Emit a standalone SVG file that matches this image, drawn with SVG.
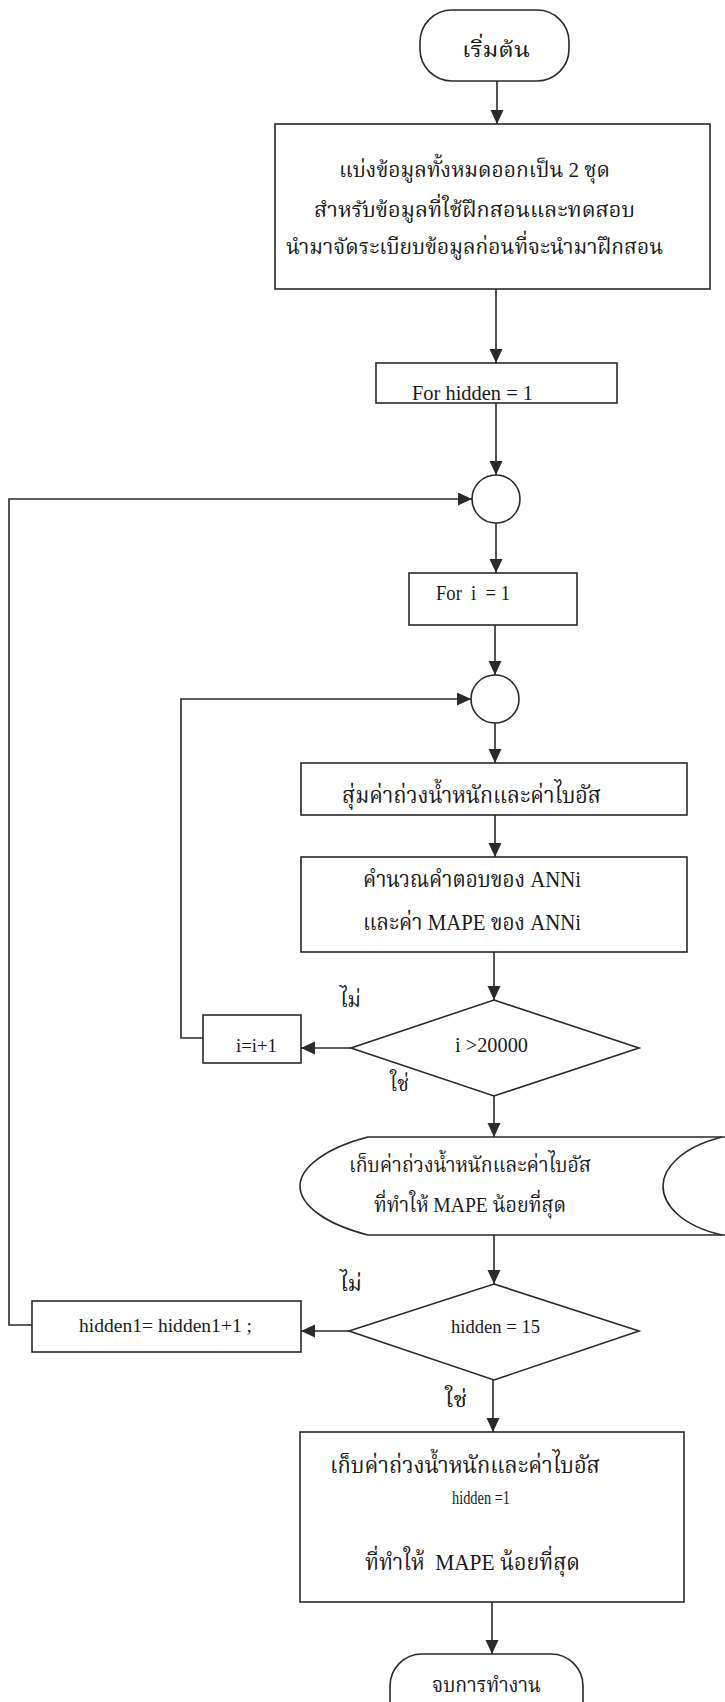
<svg xmlns="http://www.w3.org/2000/svg" width="725" height="1702" viewBox="0 0 725 1702">
<style>
.shape{fill:#fff;stroke:#2a2a2a;stroke-width:1.6}
.line{fill:none;stroke:#2a2a2a;stroke-width:1.6}
.th{font-family:"Liberation Serif","Noto Serif Thai","Noto Sans Thai","Garuda","Loma",serif;fill:#1a1a1a}
.en{font-family:"Liberation Serif",serif;fill:#1a1a1a}
</style>
<defs>
<marker id="arr" markerUnits="userSpaceOnUse" markerWidth="15" markerHeight="14" refX="14" refY="6.5" orient="auto">
<path d="M0,0 L14,6.5 L0,13 z" fill="#2a2a2a"/>
</marker>
</defs>
<rect width="725" height="1702" fill="#fff"/>
<g id="connectors">
<path class="line" d="M497,81 V124" marker-end="url(#arr)"/>
<path class="line" d="M496,289 V363" marker-end="url(#arr)"/>
<path class="line" d="M496,403 V475" marker-end="url(#arr)"/>
<path class="line" d="M496,523 V573" marker-end="url(#arr)"/>
<path class="line" d="M495,625 V675" marker-end="url(#arr)"/>
<path class="line" d="M495,723 V763" marker-end="url(#arr)"/>
<path class="line" d="M495,815 V857" marker-end="url(#arr)"/>
<path class="line" d="M494,952 V1000" marker-end="url(#arr)"/>
<path class="line" d="M494,1096 V1137" marker-end="url(#arr)"/>
<path class="line" d="M494,1235 V1284" marker-end="url(#arr)"/>
<path class="line" d="M493,1380 V1432" marker-end="url(#arr)"/>
<path class="line" d="M492,1602 V1654" marker-end="url(#arr)"/>
<path class="line" d="M351,1048 H301" marker-end="url(#arr)"/>
<path class="line" d="M203,1038 H181 V699 H471" marker-end="url(#arr)"/>
<path class="line" d="M349,1331 H301" marker-end="url(#arr)"/>
<path class="line" d="M32,1325 H9 V499 H472" marker-end="url(#arr)"/>
</g>
<g id="start">
<rect class="shape" x="420" y="10" width="149" height="71" rx="32" ry="32"/>
<text class="th" x="496" y="57" font-size="22" text-anchor="middle" textLength="68" lengthAdjust="spacingAndGlyphs">เริ่มต้น</text>
</g>
<g id="split">
<rect class="shape" x="275" y="124" width="435" height="165"/>
<text class="th" x="474.5" y="177" font-size="22" text-anchor="middle" textLength="271" lengthAdjust="spacingAndGlyphs">แบ่งข้อมูลทั้งหมดออกเป็น 2 ชุด</text>
<text class="th" x="474.5" y="217" font-size="22" text-anchor="middle" textLength="321" lengthAdjust="spacingAndGlyphs">สำหรับข้อมูลที่ใช้ฝึกสอนและทดสอบ</text>
<text class="th" x="474.5" y="254" font-size="22" text-anchor="middle" textLength="377" lengthAdjust="spacingAndGlyphs">นำมาจัดระเบียบข้อมูลก่อนที่จะนำมาฝึกสอน</text>
</g>
<g id="for-hidden">
<rect class="shape" x="376" y="363" width="241" height="40"/>
<text class="en" x="412" y="400" font-size="20" textLength="121" lengthAdjust="spacingAndGlyphs">For hidden = 1</text>
</g>
<g id="junction1">
<circle class="shape" cx="496" cy="499" r="24"/>
</g>
<g id="for-i">
<rect class="shape" x="409" y="573" width="168" height="52"/>
<text class="en" x="436" y="600" font-size="20" xml:space="preserve" textLength="74" lengthAdjust="spacingAndGlyphs">For  i  = 1</text>
</g>
<g id="junction2">
<circle class="shape" cx="495" cy="699" r="24"/>
</g>
<g id="random">
<rect class="shape" x="301" y="763" width="386" height="52"/>
<text class="th" x="471.5" y="803" font-size="23" text-anchor="middle" textLength="259" lengthAdjust="spacingAndGlyphs">สุ่มค่าถ่วงน้ำหนักและค่าไบอัส</text>
</g>
<g id="compute">
<rect class="shape" x="301" y="857" width="386" height="95"/>
<text class="th" x="472" y="887" font-size="23" text-anchor="middle" textLength="218" lengthAdjust="spacingAndGlyphs">คำนวณคำตอบของ ANNi</text>
<text class="th" x="472" y="930" font-size="23" text-anchor="middle" textLength="218" lengthAdjust="spacingAndGlyphs">และค่า MAPE ของ ANNi</text>
</g>
<g id="decision-i">
<polygon class="shape" points="494,1000 639,1048 494,1096 351,1048"/>
<text class="en" x="455" y="1052" font-size="20" textLength="73" lengthAdjust="spacingAndGlyphs">i &gt;20000</text>
<text class="th" x="340" y="1007" font-size="22" textLength="21" lengthAdjust="spacingAndGlyphs">ไม่</text>
<text class="th" x="390" y="1091" font-size="22" textLength="19" lengthAdjust="spacingAndGlyphs">ใช่</text>
</g>
<g id="increment-i">
<rect class="shape" x="203" y="1015" width="98" height="48"/>
<text class="en" x="236" y="1052" font-size="19" textLength="41" lengthAdjust="spacingAndGlyphs">i=i+1</text>
</g>
<g id="store">
<path class="shape" d="M368,1137 H730 V1235 H368 C325,1224 300,1205 300,1186 C300,1168 325,1148 368,1137 Z"/>
<path class="line" d="M722,1137 C682,1147 663,1168 663,1186 C663,1205 682,1226 722,1235"/>
<text class="th" x="470" y="1172" font-size="21" text-anchor="middle" textLength="242" lengthAdjust="spacingAndGlyphs">เก็บค่าถ่วงน้ำหนักและค่าไบอัส</text>
<text class="th" x="470" y="1212" font-size="21" text-anchor="middle" textLength="192" lengthAdjust="spacingAndGlyphs">ที่ทำให้ MAPE น้อยที่สุด</text>
</g>
<g id="decision-hidden">
<polygon class="shape" points="494,1284 639,1331 494,1380 349,1331"/>
<text class="en" x="451" y="1333" font-size="19" textLength="89" lengthAdjust="spacingAndGlyphs">hidden = 15</text>
<text class="th" x="340" y="1291" font-size="22" textLength="22" lengthAdjust="spacingAndGlyphs">ไม่</text>
<text class="th" x="445" y="1407" font-size="22" textLength="22" lengthAdjust="spacingAndGlyphs">ใช่</text>
</g>
<g id="increment-hidden">
<rect class="shape" x="32" y="1301" width="269" height="51"/>
<text class="en" x="79" y="1332" font-size="19.5" textLength="173" lengthAdjust="spacingAndGlyphs">hidden1= hidden1+1 ;</text>
</g>
<g id="final-store">
<rect class="shape" x="300" y="1432" width="384" height="170"/>
<text class="th" x="465" y="1473" font-size="23" text-anchor="middle" textLength="270" lengthAdjust="spacingAndGlyphs">เก็บค่าถ่วงน้ำหนักและค่าไบอัส</text>
<text class="en" x="452" y="1504" font-size="19" textLength="58" lengthAdjust="spacingAndGlyphs">hidden =1</text>
<text class="th" x="472.5" y="1570" font-size="23" text-anchor="middle" xml:space="preserve" textLength="215" lengthAdjust="spacingAndGlyphs">ที่ทำให้  MAPE น้อยที่สุด</text>
</g>
<g id="end">
<rect class="shape" x="390" y="1654" width="193" height="80" rx="32" ry="32"/>
<text class="th" x="486.5" y="1692" font-size="22" text-anchor="middle" textLength="109" lengthAdjust="spacingAndGlyphs">จบการทำงาน</text>
</g>
</svg>
